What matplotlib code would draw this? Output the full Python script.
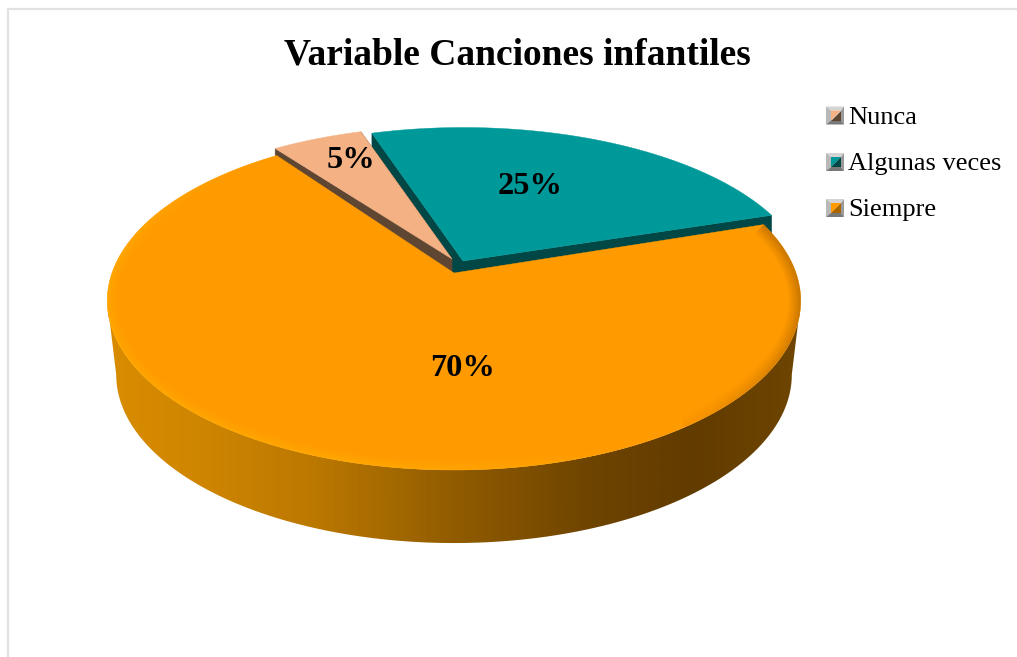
import numpy as np
import matplotlib
matplotlib.use("Agg")
import matplotlib.pyplot as plt
from matplotlib.collections import LineCollection
from matplotlib.colors import LinearSegmentedColormap, to_rgb
from matplotlib.patches import Polygon

# Chart data
title = "Variable Canciones infantiles"
categories = ["Nunca", "Algunas veces", "Siempre"]
values = [5, 25, 70]

top_colors = ["#f4b183", "#009999", "#ff9a00"]
wall_colors = ["#5f4632", "#004745", "#a86500"]

# perspective of the disc
K = 0.1647
A = 341.0
B = 165.4
START = 126.0


def project(t_deg, ax0, ay0, sx=1.0, sy=1.0):
    t = np.radians(t_deg)
    u, v = np.cos(t), np.sin(t)
    w = 1 + K * v
    return ax0 + sx * A * u / w, ay0 - sy * B * v / w


def wedge(t1, t2, apex, sx=1.0, sy=1.0):
    t = np.linspace(t1, t2, 200)
    x, y = project(t, apex[0], apex[1], sx, sy)
    return np.column_stack([np.r_[apex[0], x], np.r_[apex[1], y]])


fig = plt.figure(figsize=(10.17, 6.57), dpi=100)
ax = fig.add_axes([0, 0, 1, 1])
ax.set_xlim(0, 1017)
ax.set_ylim(657, 0)
ax.axis("off")

# chart frame, only top and left fall inside the crop
ax.plot([8, 8, 1017], [657, 8.5, 8.5], color="#e2e2e2", lw=1.6, zorder=1)

# wedge angles from the values, clockwise
edges = START - np.cumsum([0] + values) * 3.6
apexes = [(452, 259), (463, 261), (454, 273)]
scales = [(1.0, 0.936), (1.0, 0.94), (1.003, 0.995)]
DEPTH = 73

# back wedges: walls first, then tops
for i in [1, 0]:
    a, b = edges[i], edges[i + 1]
    pts = wedge(a, b, apexes[i], *scales[i])
    for tip in (pts[1], pts[-1]):
        wall = [apexes[i], tip, (tip[0], tip[1] + DEPTH), (apexes[i][0], apexes[i][1] + DEPTH)]
        ax.add_patch(Polygon(wall, closed=True, fc=wall_colors[i], ec=wall_colors[i], lw=0.3, zorder=2 + (1 - i) * 2))
    ax.add_patch(Polygon(pts, closed=True, fc=top_colors[i], ec=top_colors[i], lw=0.3, zorder=3 + (1 - i) * 2))

# orange side wall with horizontal gradient
a, b = edges[2], edges[3]
t = np.linspace(0, 360, 1441)
xt, yt = project(t, *apexes[2], *scales[2])
xb, yb = project(t, apexes[2][0], apexes[2][1] + 74, 0.977, 0.99)
it_l, it_r = np.argmin(xt), np.argmax(xt)
ib_l, ib_r = np.argmin(xb), np.argmax(xb)
top_front = np.column_stack([xt[it_l:it_r + 1], yt[it_l:it_r + 1]])
bot_front = np.column_stack([xb[ib_l:ib_r + 1], yb[ib_l:ib_r + 1]])
wall_poly = Polygon(np.vstack([top_front, bot_front[::-1]]), closed=True, fc="none", ec="none", zorder=6)
ax.add_patch(wall_poly)
grad = LinearSegmentedColormap.from_list(
    "side",
    [(0.0, "#d88c00"), (0.12, "#d08600"), (0.3, "#bb7800"), (0.5, "#915c00"),
     (0.7, "#6e4400"), (0.85, "#623b00"), (1.0, "#6e4500")],
)
img = ax.imshow(np.linspace(0, 1, 400)[None, :], extent=(108, 800, 657, 0), cmap=grad,
                aspect="auto", zorder=6)
img.set_clip_path(wall_poly)
ax.set_xlim(0, 1017)
ax.set_ylim(657, 0)

# orange top with rim shading
orange_pts = wedge(a, b, apexes[2], *scales[2])
orange = Polygon(orange_pts, closed=True, fc=top_colors[2], ec=top_colors[2], lw=0.3, zorder=7)
ax.add_patch(orange)

rim_t = np.linspace(a, b, 600)
rx, ry = project(rim_t, *apexes[2], *scales[2])
rim_pts = np.column_stack([rx, ry])
segs = np.stack([rim_pts[:-1], rim_pts[1:]], axis=1)
light = np.cos(np.radians(rim_t[:-1] - 215))
base = np.array(to_rgb("#ffb400"))
dark = np.array(to_rgb("#a86200"))
rgba = np.zeros((len(light), 4))
rgba[:, :3] = np.where(light[:, None] > 0, base, dark)
strength = np.clip(np.abs(light) * 1.4, 0, 1)
for width, alpha in [(24, 0.07), (20, 0.08), (16, 0.1), (12, 0.12), (8, 0.15), (4, 0.2)]:
    c = rgba.copy()
    c[:, 3] = alpha * strength
    lc = LineCollection(segs, colors=c, linewidths=width * 0.72, capstyle="butt", zorder=8)
    ax.add_collection(lc)
    lc.set_clip_path(orange)

# title and data labels
ax.text(517, 55, title, family="Liberation Serif", fontweight="bold", fontsize=27,
        ha="center", va="center", color="black", zorder=10)
label_pos = [(351, 161), (530, 187), (463, 369)]
for v, (lx, ly) in zip(values, label_pos):
    ax.text(lx, ly, f"{v}%", family="Liberation Serif", fontweight="bold", fontsize=23.3,
            ha="center", va="center", color="black", zorder=10)

# legend with bevelled keys
legend_y = [115.5, 162, 208]
for name, top_c, wall_c, ly in zip(categories, top_colors, wall_colors, legend_y):
    x0, x1, y0, y1 = 826, 844, ly - 9, ly + 9
    ix0, ix1, iy0, iy1 = 831, 841, ly - 5, ly + 5
    bevel = [
        ([(x0, y0), (x1, y0), (ix1, iy0), (ix0, iy0)], "#d4d4d4"),
        ([(x0, y0), (ix0, iy0), (ix0, iy1), (x0, y1)], "#b8b8b8"),
        ([(x1, y0), (x1, y1), (ix1, iy1), (ix1, iy0)], "#9a9a9a"),
        ([(x0, y1), (ix0, iy1), (ix1, iy1), (x1, y1)], "#787878"),
        ([(ix0, iy0), (ix1, iy0), (ix0, iy1)], top_c),
        ([(ix1, iy0), (ix1, iy1), (ix0, iy1)], wall_c),
    ]
    for poly, col in bevel:
        ax.add_patch(Polygon(poly, closed=True, fc=col, ec="none", zorder=10))
    ax.text(848, ly + 2, name, family="Liberation Serif", fontsize=19, ha="left", va="center",
            color="black", zorder=10)

fig.savefig("out.png", dpi=100)
